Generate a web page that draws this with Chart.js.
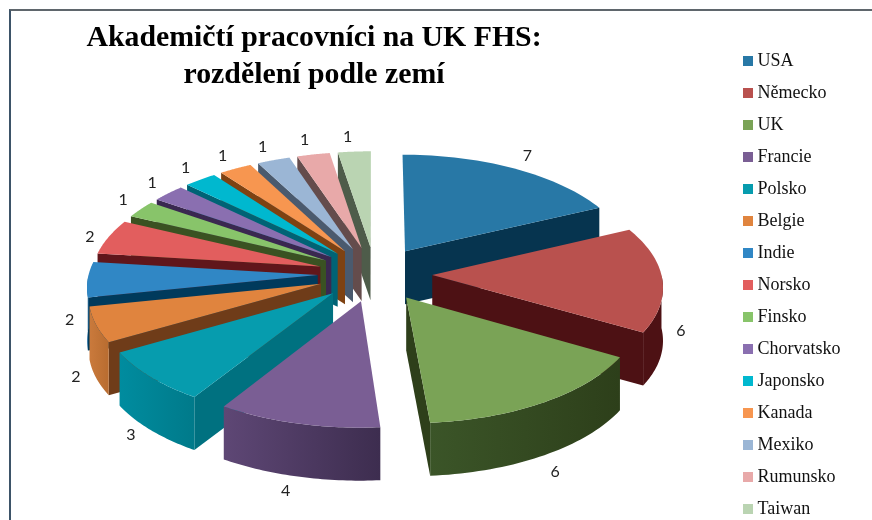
<!DOCTYPE html>
<html>
<head>
<meta charset="utf-8">
<style>
  html, body { margin: 0; background: #fff; }
  #wrap { position: relative; width: 872px; height: 520px; overflow: hidden; }
  #frame { position: absolute; left: 9px; top: 9px; right: -4px; bottom: -4px;
           border-left: 2px solid #3d5368; border-top: 2px solid #5f666c; }
  canvas { position: absolute; left: 0; top: 0; }
</style>
<script src="https://cdn.jsdelivr.net/npm/chart.js@4"></script>
</head>
<body>
<div id="wrap">
  <div id="frame"></div>
  <canvas id="chart" width="872" height="520"></canvas>
</div>
<script>
const countries = ["USA", "Německo", "UK", "Francie", "Polsko", "Belgie", "Indie", "Norsko",
  "Finsko", "Chorvatsko", "Japonsko", "Kanada", "Mexiko", "Rumunsko", "Taiwan"];
const staff = [7, 6, 6, 4, 3, 2, 2, 2, 1, 1, 1, 1, 1, 1, 1];
const titleLines = ["Akademičtí pracovníci na UK FHS:", "rozdělení podle zemí"];

const topColors = ["#2878a6", "#b9514e", "#7aa356", "#7a5e94", "#069cae", "#e0843e", "#3087c5", "#e25e5e",
  "#88c46a", "#8a6fb0", "#00b8cf", "#f79650", "#9bb6d5", "#e8a9a9", "#bad4b2"];
const sideColors = ["#06344f", "#4d1114", "#2e3f1a", "#3e2d4f", "#007180", "#6f3c19", "#003a5c", "#60161b",
  "#3a5222", "#3a2850", "#006375", "#7e4212", "#4a5a6e", "#644c4c", "#4e5c4a"];
const rimLeftColors = ["#06344f", "#4d1114", "#3b5528", "#5e4775", "#008c9f", "#ca7a3c", "#2a6f9f", "#60161b",
  "#3a5222", "#3a2850", "#006375", "#7e4212", "#4a5a6e", "#644c4c", "#4e5c4a"];
const rimRightColors = ["#06344f", "#4d1114", "#2d3f1a", "#3d2d4f", "#007a8a", "#b86c30", "#2a6f9f", "#60161b",
  "#3a5222", "#3a2850", "#006375", "#7e4212", "#4a5a6e", "#644c4c", "#4e5c4a"];

// tilted view of the pie
const view = { x: 375, y: 274, rx: 229, ry: 109.5, persp: 0.092, drop: 53, explode: 0.25 };

function project(u, v, z) {
  const s = 1 / (1 + view.persp * v);
  return { x: view.x + view.rx * u * s, y: view.y - view.ry * v * s + z };
}

function fillPath(ctx, pts, color) {
  ctx.beginPath();
  pts.forEach((p, i) => (i ? ctx.lineTo(p.x, p.y) : ctx.moveTo(p.x, p.y)));
  ctx.closePath();
  ctx.fillStyle = color;
  ctx.fill();
}

const tiltedPie = {
  id: "tiltedPie",
  afterLayout(chart) {
    // the title and the legend do not sit where the layout puts them
    chart.titleBlock.left = 0;
    chart.titleBlock.right = 628;
    chart.legend.left = 733.5;
    chart.legend.right = 872;
    chart.legend.top = 38;
    chart.legend.bottom = 600;
  },
  beforeDatasetDraw(chart) {
    const ctx = chart.ctx;
    const arcs = chart.getDatasetMeta(0).data;
    const slices = arcs.map((arc, i) => {
      const a0 = arc.startAngle + Math.PI / 2;
      const a1 = arc.endAngle + Math.PI / 2;
      const mid = (a0 + a1) / 2;
      return { i, a0, a1, mid, ox: view.explode * Math.sin(mid), oy: view.explode * Math.cos(mid) };
    });

    [...slices].sort((a, b) => Math.cos(b.mid) - Math.cos(a.mid)).forEach((sl) => {
      const at = (t, z) => project(sl.ox + Math.sin(t), sl.oy + Math.cos(t), z);
      const hub = (z) => project(sl.ox, sl.oy, z);

      if (Math.sin(sl.a0) < 0) {
        fillPath(ctx, [hub(0), at(sl.a0, 0), at(sl.a0, view.drop), hub(view.drop)], sideColors[sl.i]);
      }
      if (Math.sin(sl.a1) > 0) {
        fillPath(ctx, [hub(0), at(sl.a1, 0), at(sl.a1, view.drop), hub(view.drop)], sideColors[sl.i]);
      }

      const from = Math.max(sl.a0, Math.PI / 2);
      const to = Math.min(sl.a1, Math.PI * 1.5);
      if (to > from) {
        const upper = [];
        const lower = [];
        for (let k = 0; k <= 40; k++) {
          const t = from + (to - from) * k / 40;
          upper.push(at(t, 0));
          lower.unshift(at(t, view.drop));
        }
        const xs = upper.map((p) => p.x);
        const grad = ctx.createLinearGradient(Math.min(...xs), 0, Math.max(...xs), 0);
        grad.addColorStop(0, rimLeftColors[sl.i]);
        grad.addColorStop(1, rimRightColors[sl.i]);
        fillPath(ctx, upper.concat(lower), grad);
      }

      const face = [hub(0)];
      for (let k = 0; k <= 40; k++) face.push(at(sl.a0 + (sl.a1 - sl.a0) * k / 40, 0));
      fillPath(ctx, face, topColors[sl.i]);
    });

    ctx.font = "16px Lato";
    ctx.fillStyle = "#222";
    ctx.textAlign = "center";
    ctx.textBaseline = "middle";
    slices.forEach((sl) => {
      const left = Math.sin(sl.mid) < 0;
      const back = Math.cos(sl.mid) > 0;
      const shift = left ? (back ? -0.02 : 0.02) : (back ? 0.02 : 0.005);
      const t = sl.mid + shift;
      const c = Math.cos(t);
      let z = view.drop * Math.min(1.05, Math.max(0, (0.35 - Math.cos(sl.mid)) / 0.45));
      if (left) z *= 1 - 0.15 * Math.abs(Math.sin(t));
      const p = project(1.33 * Math.sin(t), 1.33 * c, z);
      ctx.fillText(String(staff[sl.i]), p.x, p.y + (back ? -8 : 4));
    });
    return false;
  },
};

new Chart(document.getElementById("chart"), {
  type: "pie",
  data: {
    labels: countries,
    datasets: [{ data: staff, backgroundColor: topColors, borderWidth: 0 }],
  },
  options: {
    responsive: false,
    animation: false,
    plugins: {
      tooltip: { enabled: false },
      title: {
        display: true,
        text: titleLines,
        color: "#000",
        font: { family: "Liberation Serif", size: 29.8, weight: "bold", lineHeight: 1.24 },
        padding: { top: 20, bottom: 8 },
      },
      legend: {
        position: "right",
        align: "start",
        fullSize: true,
        labels: {
          usePointStyle: true,
          pointStyle: "rect",
          boxWidth: 1,
          boxHeight: 10,
          padding: 14,
          color: "#111",
          font: { family: "Liberation Serif", size: 18 },
        },
      },
    },
  },
  plugins: [tiltedPie],
});
</script>
</body>
</html>
